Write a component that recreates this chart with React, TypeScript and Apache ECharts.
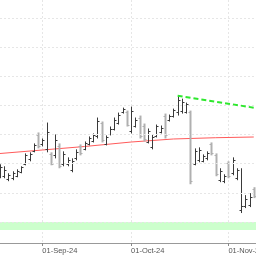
import React, { useEffect, useRef } from "react";
import * as echarts from "echarts";

const dates = [
  "19-Aug-24", "20-Aug-24", "21-Aug-24", "22-Aug-24", "23-Aug-24",
  "26-Aug-24", "27-Aug-24", "28-Aug-24", "29-Aug-24", "30-Aug-24",
  "02-Sep-24", "03-Sep-24", "04-Sep-24", "05-Sep-24", "06-Sep-24",
  "09-Sep-24", "10-Sep-24", "11-Sep-24", "12-Sep-24", "13-Sep-24",
  "16-Sep-24", "17-Sep-24", "18-Sep-24", "19-Sep-24", "20-Sep-24",
  "23-Sep-24", "24-Sep-24", "25-Sep-24", "26-Sep-24", "27-Sep-24",
  "30-Sep-24", "01-Oct-24", "02-Oct-24", "03-Oct-24", "04-Oct-24",
  "07-Oct-24", "08-Oct-24", "09-Oct-24", "10-Oct-24", "11-Oct-24",
  "14-Oct-24", "15-Oct-24", "16-Oct-24", "17-Oct-24", "18-Oct-24",
  "21-Oct-24", "22-Oct-24", "23-Oct-24", "24-Oct-24", "25-Oct-24",
  "28-Oct-24", "29-Oct-24", "30-Oct-24", "31-Oct-24", "01-Nov-24",
  "04-Nov-24", "05-Nov-24", "06-Nov-24", "07-Nov-24", "08-Nov-24",
  "11-Nov-24", "12-Nov-24",
];

const monthStarts = ["02-Sep-24", "01-Oct-24", "01-Nov-24"];
const monthLabels = ["01-Sep-24", "01-Oct-24", "01-Nov-24"];

const opens = [
  108.2, 107.9, 107.3, 107.5, 107.9, 108.6, 110.0, 110.8, 112.2, 115.0,
  113.3, 112.5, 111.7, 111.5, 113.0, 110.0, 109.9, 109.0, 110.9, 113.0,
  112.6, 113.4, 113.9, 114.8, 117.0, 113.4, 115.1, 116.0, 117.0, 118.8,
  118.9, 115.6, 116.5, 117.9, 116.5, 113.8, 112.8, 114.8, 115.4, 118.2,
  117.5, 118.2, 118.8, 119.0, 118.9, 118.8, 110.0, 110.6, 110.5, 110.9,
  113.4, 111.5, 107.2, 107.0, 110.1, 108.4, 107.5, 102.0, 102.8, 103.0,
  105.7,
];
const highs = [
  109.9, 109.56, 108.36, 108.7, 109.04, 109.56, 111.77, 111.95, 113.48, 115.36,
  114.33, 117.06, 111.95, 115.02, 113.48, 112.12, 111.09, 110.92, 112.46, 113.31,
  113.82, 114.68, 115.19, 117.92, 117.24, 114.85, 116.38, 117.92, 118.77, 119.62,
  119.11, 119.8, 117.92, 118.26, 116.89, 116.04, 115.02, 116.72, 116.55, 118.6,
  118.43, 119.45, 121.67, 121.16, 120.48, 119.11, 112.63, 112.8, 111.6, 112.12,
  113.65, 111.77, 109.22, 108.19, 110.41, 111.09, 109.22, 109.22, 104.61, 104.95,
  105.97,
];
const lows = [
  107.51, 107.51, 107.0, 107.17, 107.68, 108.36, 109.73, 110.41, 111.95, 112.63,
  112.97, 111.95, 109.73, 110.92, 109.22, 109.56, 109.56, 108.53, 110.58, 111.43,
  112.29, 113.14, 113.65, 114.33, 113.65, 113.14, 114.85, 115.7, 116.72, 118.6,
  116.38, 115.19, 116.21, 114.33, 113.82, 113.48, 112.46, 114.51, 115.19, 114.33,
  117.24, 117.92, 118.26, 118.6, 118.6, 106.48, 109.73, 110.24, 110.24, 110.58,
  111.43, 107.85, 106.83, 106.66, 107.51, 108.02, 107.17, 101.54, 102.39, 102.56,
  104.1,
];
const closes = [
  109.5, 109.0, 108.0, 108.4, 108.8, 109.4, 111.5, 111.6, 113.2, 113.0,
  114.0, 115.5, 110.0, 114.0, 109.6, 111.6, 110.6, 110.5, 112.0, 111.8,
  113.5, 114.4, 114.9, 117.3, 114.0, 114.6, 116.0, 117.5, 118.4, 119.3,
  116.7, 119.0, 117.5, 114.8, 114.2, 115.6, 114.6, 116.4, 116.2, 114.9,
  118.2, 119.2, 121.0, 120.6, 120.2, 107.0, 112.2, 112.3, 111.3, 111.8,
  111.8, 108.3, 108.8, 107.9, 107.9, 110.7, 108.9, 102.8, 104.0, 104.3,
  104.4,
];

// moving average read at a few points
const maIndex = [0, 10, 20, 31, 41, 51, 60];
const maValues = [111.75, 112.35, 112.95, 113.72, 114.24, 114.46, 114.58];

// trend line endpoints
const trendIndex = [42, 61];
const trendValues = [121.67, 119.5];

const gridLevels = [100, 105, 110, 115, 120, 125, 130, 135];
const bandRange = [98.63, 100];
const yMin = 96.4;
const yMax = 138.08;

export default function App() {
  const ref = useRef<HTMLDivElement>(null);
  useEffect(() => {
    if (!ref.current) return;
    const chart = echarts.init(ref.current, null, { renderer: "svg" });
    const ohlc = opens.map((o, i) => [i, o, highs[i], lows[i], closes[i]]);
    const maData = dates.map((_, i) => {
      const k = maIndex.indexOf(i);
      return k >= 0 ? maValues[k] : null;
    });
    const trendData = dates.map((_, i) => {
      const k = trendIndex.indexOf(i);
      return k >= 0 ? trendValues[k] : null;
    });
    const isStart = (_: number, v: string) => monthStarts.indexOf(v) >= 0;
    chart.setOption({
      animation: false,
      grid: { left: 0, right: 0, top: 0, bottom: 13, containLabel: false, outerBoundsMode: "none" },
      xAxis: {
        type: "category",
        data: dates,
        boundaryGap: false,
        axisLine: { lineStyle: { color: "#999", width: 1 } },
        axisTick: { interval: isStart, length: 3, lineStyle: { color: "#888" } },
        axisLabel: {
          interval: isStart,
          formatter: (v: string) => monthLabels[monthStarts.indexOf(v)] ?? "",
          align: "left",
          fontSize: 7.5,
          fontFamily: "Liberation Sans, Arial, sans-serif",
          color: "#555",
          margin: 3,
        },
        splitLine: {
          show: true,
          interval: isStart,
          lineStyle: { type: [2, 2], color: "#e6e6e6", width: 1 },
        },
      },
      yAxis: {
        type: "value",
        min: yMin,
        max: yMax,
        show: false,
        splitLine: { show: false },
      },
      series: [
        {
          type: "line",
          data: [],
          silent: true,
          z: 1,
          markLine: {
            silent: true,
            symbol: ["none", "none"],
            label: { show: false },
            lineStyle: { type: [2, 2], color: "#e6e6e6", width: 1 },
            data: gridLevels.map((v) => ({ yAxis: v })),
          },
          markArea: {
            silent: true,
            itemStyle: { color: "#ccffcc" },
            data: [[{ yAxis: bandRange[0] }, { yAxis: bandRange[1] }]],
          },
        },
        {
          type: "line",
          data: maData,
          connectNulls: true,
          showSymbol: false,
          symbol: "none",
          lineStyle: { color: "#ff5a5a", width: 1 },
          z: 3,
        },
        {
          type: "custom",
          data: ohlc,
          encode: { x: 0, y: [1, 2, 3, 4] },
          z: 4,
          renderItem: (_params: any, api: any) => {
            const i = api.value(0);
            const o = api.value(1);
            const h = api.value(2);
            const l = api.value(3);
            const c = api.value(4);
            const pH = api.coord([i, h]);
            const pL = api.coord([i, l]);
            const pO = api.coord([i, o]);
            const pC = api.coord([i, c]);
            const up = c >= o;
            const color = up ? "#3a3a3a" : "#b0b0b0";
            const lw = up ? 1 : 2;
            const x = Math.round(pH[0]) + 0.5;
            const st = { stroke: color, lineWidth: lw };
            return {
              type: "group",
              children: [
                { type: "line", shape: { x1: x, y1: pH[1], x2: x, y2: pL[1] }, style: st },
                { type: "line", shape: { x1: x - 2, y1: Math.round(pO[1]) + 0.5, x2: x, y2: Math.round(pO[1]) + 0.5 }, style: { stroke: color, lineWidth: 1 } },
                { type: "line", shape: { x1: x, y1: Math.round(pC[1]) + 0.5, x2: x + 2, y2: Math.round(pC[1]) + 0.5 }, style: { stroke: color, lineWidth: 1 } },
              ],
            };
          },
        },
        {
          type: "line",
          data: trendData,
          connectNulls: true,
          showSymbol: false,
          symbol: "none",
          lineStyle: { color: "#2ee82e", width: 2, type: [5, 3] },
          z: 5,
        },
      ],
    });
    return () => chart.dispose();
  }, []);
  return (
    <div
      ref={ref}
      style={{ position: "fixed", left: 0, top: 0, width: 258, height: 256 }}
    />
  );
}
